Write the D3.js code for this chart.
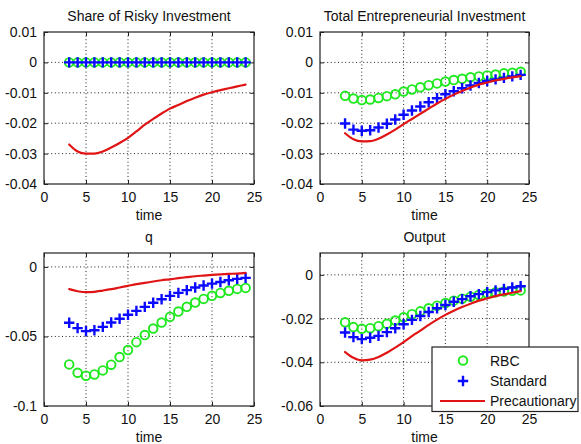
<!DOCTYPE html>
<html>
<head>
<meta charset="utf-8">
<script src="https://cdn.jsdelivr.net/npm/d3@7"></script>
<style>
  html, body { margin: 0; padding: 0; background: #fff; }
  svg { display: block; }
  text { font-family: "Liberation Sans", Arial, Helvetica, sans-serif; fill: #111; }
</style>
</head>
<body>
<svg id="chart" width="581" height="444"></svg>
<script>
// Impulse responses, periods 3..24
const time = [3, 4, 5, 6, 7, 8, 9, 10, 11, 12, 13, 14, 15, 16, 17, 18, 19, 20, 21, 22, 23, 24];

const seriesNames = ["RBC", "Standard", "Precautionary"];

// Share of Risky Investment
const shareRBC = [0, 0, 0, 0, 0, 0, 0, 0, 0, 0, 0, 0, 0, 0, 0, 0, 0, 0, 0, 0, 0, 0];
const shareStandard = [0, 0, 0, 0, 0, 0, 0, 0, 0, 0, 0, 0, 0, 0, 0, 0, 0, 0, 0, 0, 0, 0];
const sharePrecautionary = [-0.0270, -0.0293, -0.0300, -0.0300, -0.0293, -0.0280, -0.0265, -0.0248, -0.0227,
  -0.0205, -0.0186, -0.0168, -0.0152, -0.0140, -0.0127, -0.0116, -0.0106, -0.0098, -0.0091, -0.0085, -0.0079, -0.0073];

// Total Entrepreneurial Investment
const investRBC = [-0.0110, -0.0119, -0.0124, -0.0122, -0.0117, -0.0111, -0.0105, -0.0096, -0.0089, -0.0082, -0.0075,
  -0.0069, -0.0063, -0.0058, -0.0054, -0.0049, -0.0046, -0.0043, -0.0040, -0.0036, -0.0034, -0.0031];
const investStandard = [-0.0201, -0.0221, -0.0225, -0.0223, -0.0214, -0.0202, -0.0188, -0.0172, -0.0158, -0.0145, -0.0131,
  -0.0118, -0.0105, -0.0095, -0.0085, -0.0076, -0.0068, -0.0061, -0.0056, -0.0051, -0.0046, -0.0041];
const investPrecautionary = [-0.0233, -0.0253, -0.0260, -0.0259, -0.0251, -0.0237, -0.0221, -0.0203, -0.0186, -0.0169, -0.0152,
  -0.0135, -0.0120, -0.0106, -0.0094, -0.0083, -0.0073, -0.0066, -0.0059, -0.0054, -0.0049, -0.0045];

// q
const qRBC = [-0.0701, -0.0761, -0.0782, -0.0773, -0.0744, -0.0703, -0.0648, -0.0598, -0.0541, -0.0490, -0.0443,
  -0.0400, -0.0359, -0.0321, -0.0287, -0.0256, -0.0230, -0.0208, -0.0187, -0.0172, -0.0158, -0.0151];
const qStandard = [-0.0402, -0.0440, -0.0462, -0.0455, -0.0431, -0.0400, -0.0373, -0.0344, -0.0316, -0.0287, -0.0258,
  -0.0232, -0.0208, -0.0187, -0.0167, -0.0148, -0.0134, -0.0120, -0.0108, -0.0096, -0.0086, -0.0079];
const qPrecautionary = [-0.0160, -0.0175, -0.0182, -0.0179, -0.0170, -0.0160, -0.0148, -0.0136, -0.0124, -0.0115, -0.0105,
  -0.0096, -0.0089, -0.0081, -0.0074, -0.0067, -0.0062, -0.0057, -0.0053, -0.0050, -0.0048, -0.0043];

// Output
const outputRBC = [-0.0217, -0.0239, -0.0247, -0.0244, -0.0235, -0.0224, -0.0209, -0.0194, -0.0180, -0.0167, -0.0153,
  -0.0141, -0.0129, -0.0118, -0.0109, -0.0100, -0.0092, -0.0085, -0.0080, -0.0076, -0.0073, -0.0071];
const outputStandard = [-0.0264, -0.0285, -0.0294, -0.0288, -0.0279, -0.0262, -0.0244, -0.0226, -0.0206, -0.0188, -0.0170,
  -0.0153, -0.0138, -0.0123, -0.0111, -0.0098, -0.0088, -0.0079, -0.0071, -0.0064, -0.0058, -0.0052];
const outputPrecautionary = [-0.0353, -0.0379, -0.0391, -0.0388, -0.0376, -0.0356, -0.0333, -0.0308, -0.0280, -0.0255, -0.0229,
  -0.0205, -0.0183, -0.0164, -0.0147, -0.0132, -0.0118, -0.0108, -0.0097, -0.0089, -0.0082, -0.0074];

// Axis ticks
const xTicks = [0, 5, 10, 15, 20, 25];
const yTicksTop = [0.01, 0, -0.01, -0.02, -0.03, -0.04];
const yTicksQ = [0, -0.05, -0.1];
const yTicksOutput = [0, -0.02, -0.04, -0.06];

const titles = ["Share of Risky Investment", "Total Entrepreneurial Investment", "q", "Output"];

// Layout
const panels = [
  { title: titles[0], x: 44,  y: 32,  w: 210, h: 152, yDomain: [-0.04, 0.01], yTicks: yTicksTop,
    rbc: shareRBC, std: shareStandard, pre: sharePrecautionary },
  { title: titles[1], x: 320, y: 32,  w: 209, h: 152, yDomain: [-0.04, 0.01], yTicks: yTicksTop,
    rbc: investRBC, std: investStandard, pre: investPrecautionary },
  { title: titles[2], x: 44,  y: 253, w: 210, h: 153, yDomain: [-0.1, 0.01], yTicks: yTicksQ,
    rbc: qRBC, std: qStandard, pre: qPrecautionary },
  { title: titles[3], x: 320, y: 253, w: 209, h: 153, yDomain: [-0.06, 0.01], yTicks: yTicksOutput,
    rbc: outputRBC, std: outputStandard, pre: outputPrecautionary }
];

const colors = { rbc: "#1fe81f", std: "#0a0aff", pre: "#e01414" };
const fontSize = 14;
const svg = d3.select("#chart");

function crossPath(s) {
  return `M${-s},0H${s}M0,${-s}V${s}`;
}

panels.forEach(p => {
  const g = svg.append("g").attr("transform", `translate(${p.x},${p.y})`);
  const x = d3.scaleLinear().domain([0, 25]).range([0, p.w]);
  const y = d3.scaleLinear().domain(p.yDomain).range([p.h, 0]);

  // white plot area
  g.append("rect").attr("width", p.w).attr("height", p.h).attr("fill", "#fff");

  // dotted grid
  const grid = g.append("g").attr("stroke", "#222").attr("stroke-width", 1).attr("stroke-dasharray", "1,2.6");
  grid.selectAll(".gx").data(xTicks.filter(t => t > 0 && t < 25)).join("line")
    .attr("x1", d => x(d)).attr("x2", d => x(d)).attr("y1", 0).attr("y2", p.h);
  grid.selectAll(".gy").data(p.yTicks.filter(t => y(t) > 0.5 && y(t) < p.h - 0.5)).join("line")
    .attr("y1", d => y(d)).attr("y2", d => y(d)).attr("x1", 0).attr("x2", p.w);

  // axes with inward ticks and no domain path
  const xAxis = d3.axisBottom(x).tickValues(xTicks).tickSize(-4).tickPadding(7).tickFormat(d3.format("d"));
  const yAxis = d3.axisLeft(y).tickValues(p.yTicks).tickSize(-4).tickPadding(7).tickFormat(d => d === 0 ? "0" : String(d));
  const xa = g.append("g").attr("transform", `translate(0,${p.h})`).call(xAxis);
  const ya = g.append("g").call(yAxis);
  const xTop = g.append("g").call(d3.axisTop(x).tickValues(xTicks).tickSize(-4).tickFormat(""));
  const yRight = g.append("g").attr("transform", `translate(${p.w},0)`).call(d3.axisRight(y).tickValues(p.yTicks).tickSize(-4).tickFormat(""));
  [xa, ya, xTop, yRight].forEach(a => {
    a.select(".domain").remove();
    a.selectAll(".tick line").attr("stroke", "#222");
    a.selectAll("text").attr("font-size", fontSize).attr("fill", "#111")
      .attr("font-family", '"Liberation Sans", Arial, sans-serif');
  });
  xa.selectAll("text").attr("dy", "0.75em");

  // series
  const pts = time.map((t, i) => ({ t, rbc: p.rbc[i], std: p.std[i], pre: p.pre[i] }));

  g.append("g").selectAll("circle").data(pts).join("circle")
    .attr("cx", d => x(d.t)).attr("cy", d => y(d.rbc)).attr("r", 4.3)
    .attr("fill", "none").attr("stroke", colors.rbc).attr("stroke-width", 1.9);

  g.append("g").selectAll("path").data(pts).join("path")
    .attr("transform", d => `translate(${x(d.t)},${y(d.std)})`)
    .attr("d", crossPath(5.2))
    .attr("fill", "none").attr("stroke", colors.std).attr("stroke-width", 2.4);

  const line = d3.line().x(d => x(d.t)).y(d => y(d.pre)).curve(d3.curveMonotoneX);
  g.append("path").datum(pts).attr("d", line)
    .attr("fill", "none").attr("stroke", colors.pre).attr("stroke-width", 2.2)
    .attr("stroke-linejoin", "round").attr("stroke-linecap", "round");

  // frame
  g.append("rect").attr("width", p.w).attr("height", p.h)
    .attr("fill", "none").attr("stroke", "#222").attr("stroke-width", 1.2);

  // title and x label
  g.append("text").attr("x", p.w / 2).attr("y", -11).attr("text-anchor", "middle")
    .attr("font-size", fontSize).text(p.title);
  g.append("text").attr("x", p.w / 2).attr("y", p.h + 36).attr("text-anchor", "middle")
    .attr("font-size", fontSize).text("time");
});

// Legend
const leg = svg.append("g").attr("transform", "translate(432,347)");
leg.append("rect").attr("width", 146).attr("height", 64.5)
  .attr("fill", "#fff").attr("stroke", "#222").attr("stroke-width", 1.2);
const legRows = [
  { name: seriesNames[0], key: "rbc", cy: 13.5 },
  { name: seriesNames[1], key: "std", cy: 34 },
  { name: seriesNames[2], key: "pre", cy: 54 }
];
legRows.forEach(r => {
  if (r.key === "rbc") {
    leg.append("circle").attr("cx", 31).attr("cy", r.cy).attr("r", 4.3)
      .attr("fill", "none").attr("stroke", colors.rbc).attr("stroke-width", 1.9);
  } else if (r.key === "std") {
    leg.append("path").attr("transform", `translate(31,${r.cy})`).attr("d", crossPath(5.2))
      .attr("fill", "none").attr("stroke", colors.std).attr("stroke-width", 2.4);
  } else {
    leg.append("line").attr("x1", 8).attr("x2", 53).attr("y1", r.cy).attr("y2", r.cy)
      .attr("stroke", colors.pre).attr("stroke-width", 2.2);
  }
  leg.append("text").attr("x", 58).attr("y", r.cy + 5).attr("font-size", fontSize).text(r.name);
});
</script>
</body>
</html>
